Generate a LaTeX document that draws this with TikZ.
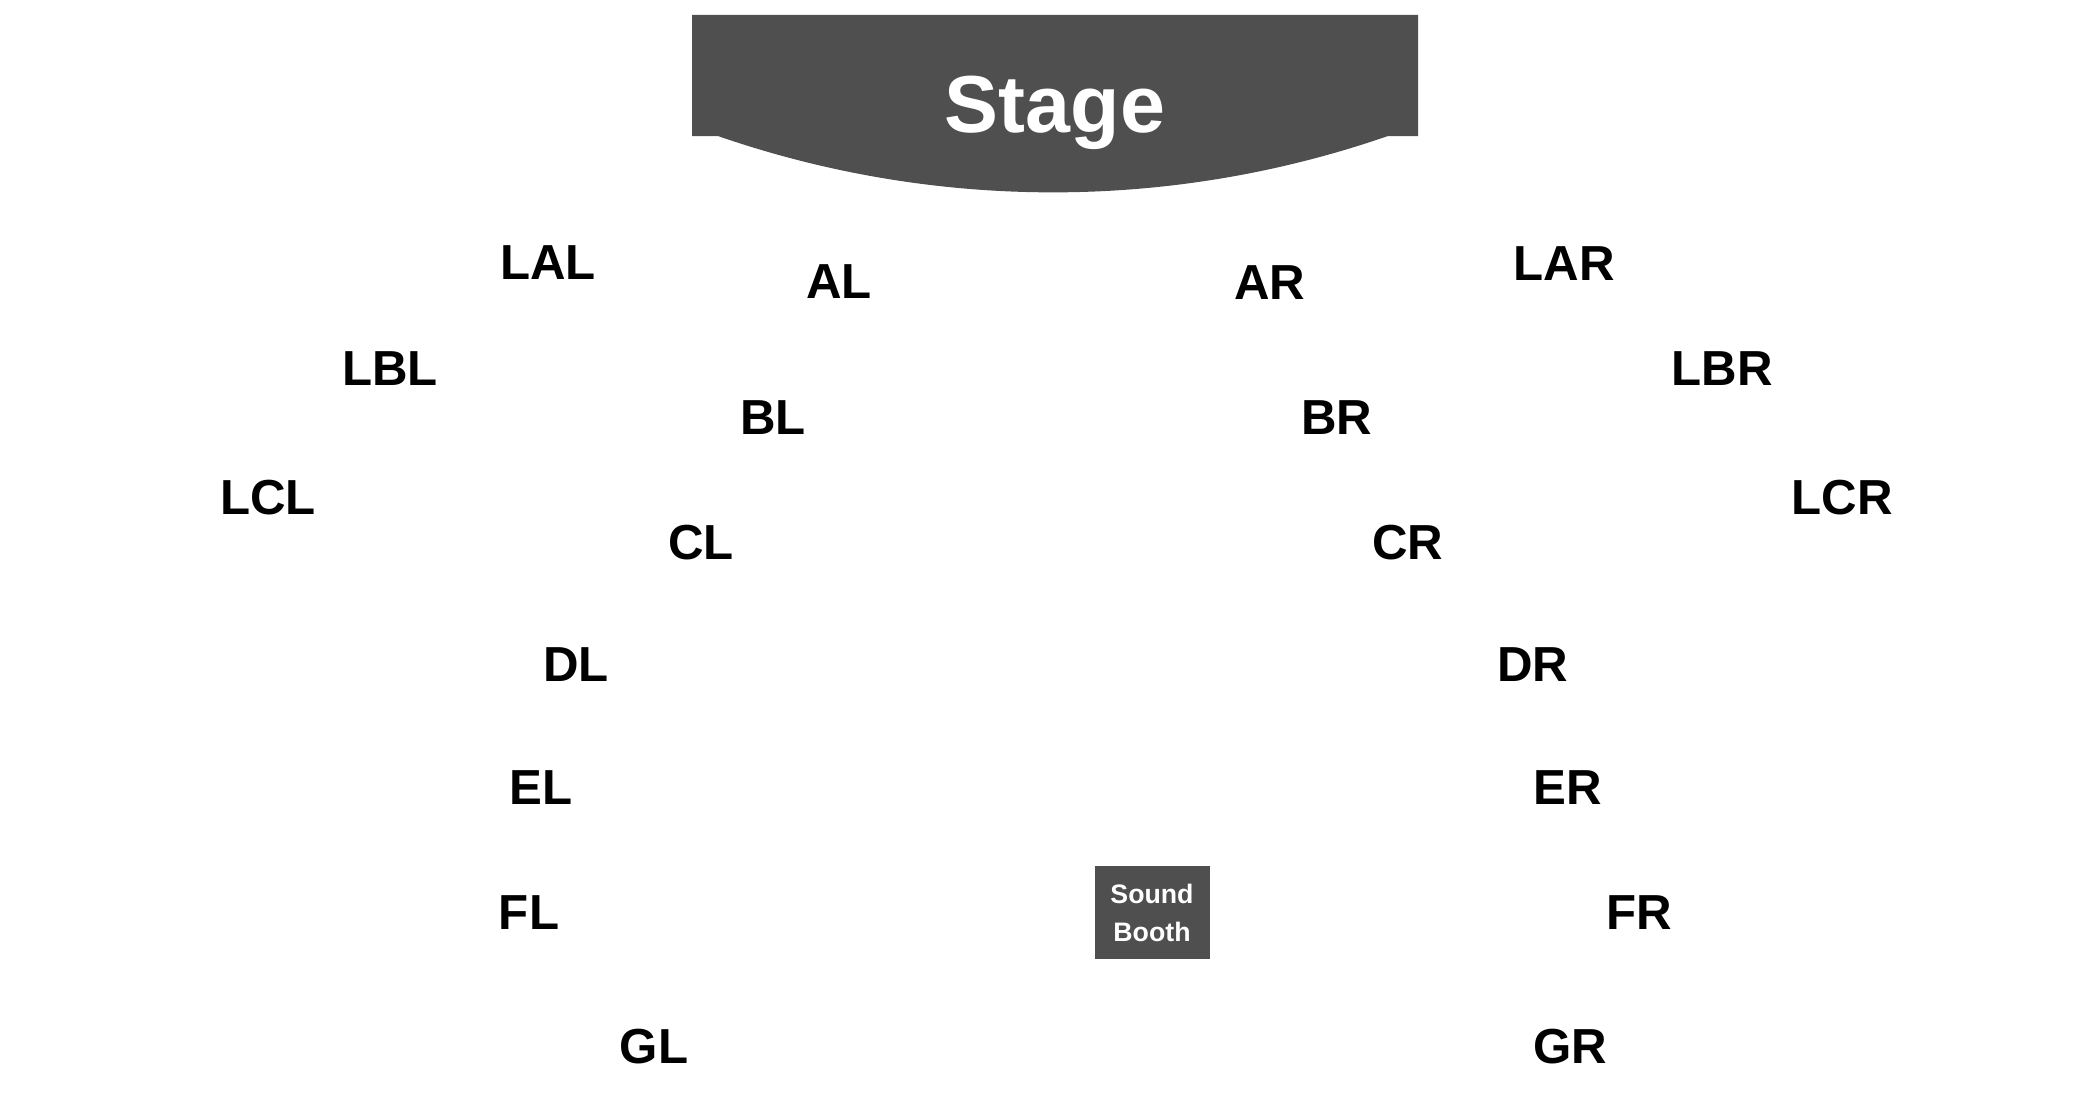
\documentclass[tikz,border=0pt]{standalone}
\usepackage{fontspec}
\setmainfont{Liberation Sans}
\usepackage{tikz}
\definecolor{stagegray}{HTML}{4F4F4F}

\begin{document}
\begin{tikzpicture}[sec/.style={font=\fontsize{14}{17}\selectfont\bfseries, inner sep=0pt},
                    booth/.style={fill=stagegray, text=white, minimum width=1.15cm, minimum height=0.93cm,
                                  align=center, inner sep=0pt, font=\fontsize{7.6}{10.8}\selectfont\bfseries}]
        \useasboundingbox (0,0) rectangle (21,-11.2);

        % stage
        \fill[stagegray] (6.92,-0.15) -- (14.18,-0.15) -- (14.18,-1.36) -- (13.88,-1.36)
          arc[start angle=289.1, end angle=250.9, radius=10.24] -- (6.92,-1.36) -- cycle;
        \node[anchor=base, text=white, inner sep=0pt, font=\fontsize{23}{28}\selectfont\bfseries] (stage) at (10.55,-1.32) {Stage};

        % left side
        \node[sec] (n1) at (5.48,-2.63) {LAL};
        \node[sec] (n2) at (8.39,-2.82) {AL};
        \node[sec] (n3) at (3.90,-3.69) {LBL};
        \node[sec] (n4) at (7.73,-4.18) {BL};
        \node[sec] (n5) at (2.68,-4.98) {LCL};
        \node[sec] (n6) at (7.01,-5.43) {CL};
        \node[sec] (n7) at (5.76,-6.65) {DL};
        \node[sec] (n8) at (5.41,-7.88) {EL};
        \node[sec] (n9) at (5.29,-9.13) {FL};
        \node[sec] (n10) at (6.54,-10.47) {GL};

        % right side
        \node[sec] (n11) at (15.64,-2.64) {LAR};
        \node[sec] (n12) at (12.70,-2.83) {AR};
        \node[sec] (n13) at (17.22,-3.69) {LBR};
        \node[sec] (n14) at (13.37,-4.18) {BR};
        \node[sec] (n15) at (18.42,-4.98) {LCR};
        \node[sec] (n16) at (14.08,-5.43) {CR};
        \node[sec] (n17) at (15.33,-6.65) {DR};
        \node[sec] (n18) at (15.68,-7.88) {ER};
        \node[sec] (n19) at (16.39,-9.13) {FR};
        \node[sec] (n20) at (15.70,-10.47) {GR};

        \node[booth] (sb) at (11.52,-9.125) {Sound\\Booth};
      \end{tikzpicture}
\end{document}
